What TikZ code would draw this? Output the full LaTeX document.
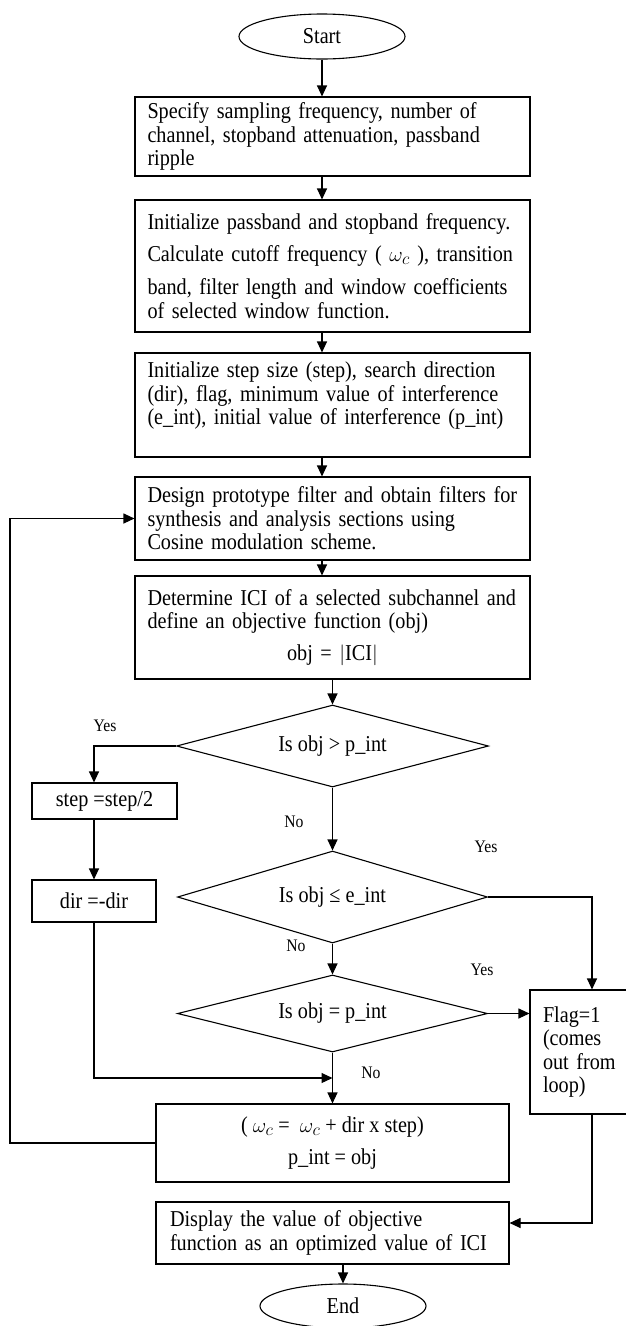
\documentclass[tikz,border=0pt]{standalone}
\usepackage{fontspec}
\setmainfont{Liberation Serif}[FakeStretch=0.89]
\usetikzlibrary{shapes.geometric,arrows.meta}
\begin{document}
\begin{tikzpicture}[x=1pt,y=-1pt]
\tikzset{
 every node/.style={font=\fontsize{22.7}{23.5}\selectfont},
 box/.style={draw, line width=1.1pt, inner xsep=12.5pt, inner ysep=0pt, align=left},
 cbox/.style={draw, line width=1.1pt, inner sep=0pt, align=center},
 dia/.style={draw, diamond, line width=1.1pt, inner sep=0pt, aspect=3.8},
 term/.style={draw, ellipse, line width=1.1pt, inner sep=0pt},
 lbl/.style={inner sep=0pt, font=\fontsize{17.6}{20}\selectfont},
 arr/.style={line width=1.1pt, -{Triangle[length=11pt,width=10pt]}},
 ln/.style={line width=1.1pt}
}
\fill[white] (0,0) rectangle (626,1326);
\useasboundingbox (0,0) rectangle (626,1326);

\node[term, minimum width=166pt, minimum height=45pt] (start) at (322,36.5) {Start};
\node[box, text width=370pt, minimum height=79pt] (b1) at (332.5,136.5)
 {Specify sampling frequency, number of\\channel, stopband attenuation, passband\\ripple};
\node[box, text width=370pt, minimum height=132pt] (b2) at (332.5,266)
 {\mbox{Initialize passband and stopband frequency.}\\[8.5pt]
  \mbox{Calculate cutoff frequency ( $\omega_c$ ), transition}\\[9.5pt]
  \mbox{band, filter length and window coefficients}\\
  of selected window function.};
\node[box, text width=370pt, minimum height=104pt] (b3) at (332.5,405)
 {\mbox{Initialize step size (step), search direction}\\\mbox{(dir), flag, minimum value of interference}\\\mbox{(e\_int), initial value of interference (p\_int)}\\\mbox{}};
\node[box, text width=370pt, minimum height=83pt] (b4) at (332.5,518.5)
 {\mbox{Design prototype filter and obtain filters for}\\synthesis and analysis sections using\\Cosine modulation scheme.};
\node[box, text width=370pt, minimum height=103pt] (b5) at (332.5,627.5)
 {\mbox{Determine ICI of a selected subchannel and}\\define an objective function (obj)\\[8pt]
  \makebox[\linewidth]{obj = $\Bigl|$ICI$\Bigr|$}};

\node[dia, minimum width=312pt, minimum height=82pt] (d1) at (332.5,746) {Is obj > p\_int};
\node[dia, minimum width=310pt, minimum height=92pt] (d2) at (332.5,897) {Is obj ≤ e\_int};
\node[dia, minimum width=310pt, minimum height=77pt] (d3) at (332.5,1013.5) {Is obj = p\_int};

\node[cbox, minimum width=145pt, minimum height=36pt] (stepb) at (104.5,801) {step =step/2};
\node[cbox, minimum width=124pt, minimum height=42pt] (dirb) at (94,901) {dir =-dir};

\node[box, text width=98pt, inner xsep=13pt, minimum height=124pt] (flag) at (592,1052)
 {Flag=1\\(comes\\out from\\loop)};

\node[cbox, minimum width=353pt, minimum height=78pt] (b6) at (332.5,1143)
 {( $\omega_c$ = \ $\omega_c$ + dir x step)\\[8pt] p\_int = obj};
\node[box, text width=325pt, inner xsep=14pt, minimum height=62pt] (b7) at (332.5,1233)
 {Display the value of objective\\function as an optimized value of ICI};
\node[term, minimum width=166pt, minimum height=44pt] (end) at (343,1306) {End};

\node[lbl] (y1) at (105,726) {Yes};
\node[lbl] (n1) at (294,822) {No};
\node[lbl] (y2) at (486,847) {Yes};
\node[lbl] (n2) at (296,946) {No};
\node[lbl] (y3) at (482,970) {Yes};
\node[lbl] (n3) at (371,1073) {No};

\coordinate (lx) at (10,0);
\coordinate (mg) at (332.5,1078);

\draw[arr] (start.south) -- (start.south |- b1.north);
\draw[arr] (start.south |- b1.south) -- (start.south |- b2.north);
\draw[arr] (start.south |- b2.south) -- (start.south |- b3.north);
\draw[arr] (start.south |- b3.south) -- (start.south |- b4.north);
\draw[arr] (start.south |- b4.south) -- (start.south |- b5.north);
\draw[arr] (b5.south) -- (d1.north);
\draw[arr] (d1.south) -- (d2.north);
\draw[arr] (d2.south) -- (d3.north);
\draw[arr] (d3.south) -- (b6.north);
\draw[arr] (d1.west) -| (dirb.north |- stepb.north);
\draw[arr] (dirb.north |- stepb.south) -- (dirb.north);
\draw[arr] (dirb.south) |- (mg);
\draw[arr] (d2.east) -| (flag.north);
\draw[arr] (d3.east) -- (d3.east -| flag.west);
\draw[arr] (flag.south) |- ([yshift=10pt]b7.east);
\draw[arr] (b6.west) -- (b6.west -| lx) |- (b4.west);
\draw[arr] (end.north |- b7.south) -- (end.north);
\end{tikzpicture}
\end{document}
